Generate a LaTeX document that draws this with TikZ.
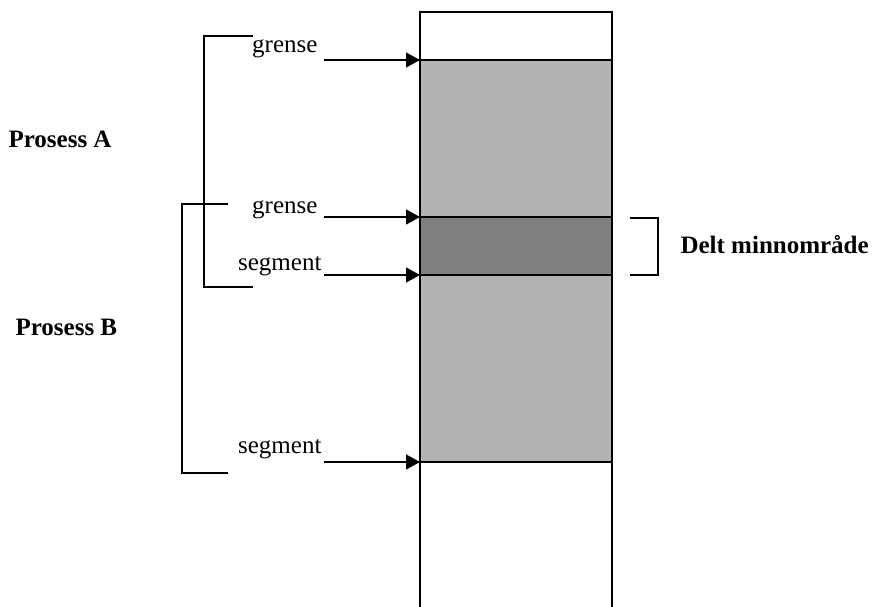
\documentclass[tikz,border=0pt]{standalone}
\usepackage{fontspec}
\setmainfont{Liberation Serif}
\usetikzlibrary{arrows.meta}
\definecolor{lightmem}{HTML}{B3B3B3}
\definecolor{darkmem}{HTML}{808080}
\begin{document}
\begin{tikzpicture}[x=1pt,y=-1pt,line width=1.1pt,
  lbl/.style={inner sep=0pt,font=\fontsize{25}{29}\selectfont},
  blbl/.style={inner sep=0pt,font=\fontsize{25}{29}\selectfont\bfseries},
  ptr/.style={-{Triangle[length=14pt,width=15pt]}},
  memrect/.style={draw,minimum width=192pt,inner sep=0pt,outer sep=0pt}]
\useasboundingbox (0,0) rectangle (875,607);
% memory column
\draw (420,607) -- (420,12) -- (612,12) -- (612,607);
\node[memrect,fill=lightmem,minimum height=157pt,anchor=north west] (a) at (420,60) {};
\node[memrect,fill=darkmem,minimum height=58pt,anchor=north west] (s) at (420,217) {};
\node[memrect,fill=lightmem,minimum height=187pt,anchor=north west] (b) at (420,275) {};
% labels
\node[lbl,anchor=base east] (g1) at (318,53) {grense};
\node[lbl,anchor=base east] (g2) at (318,213) {grense};
\node[lbl,anchor=base east] (s1) at (322,270) {segment};
\node[lbl,anchor=base east] (s2) at (322,453) {segment};
\coordinate (g1s) at (324,60);
\coordinate (g2s) at (324,217);
\coordinate (s1s) at (324,275);
\coordinate (s2s) at (324,462);
\draw[ptr] (g1s) -- (a.north west);
\draw[ptr] (g2s) -- (s.north west);
\draw[ptr] (s1s) -- (s.south west);
\draw[ptr] (s2s) -- (b.south west);
% brackets
\draw (253,36) -- (204,36) -- (204,287) -- (253,287);
\draw (228,204) -- (182,204) -- (182,473) -- (228,473);
\draw (630,218) -- (658,218) -- (658,275) -- (630,275);
\node[blbl,anchor=base west] (pa) at (8,147) {Prosess A};
\node[blbl,anchor=base west] (pb) at (15,335) {Prosess B};
\node[blbl,anchor=base west] (dm) at (680,253) {Delt minnområde};
\end{tikzpicture}
\end{document}
